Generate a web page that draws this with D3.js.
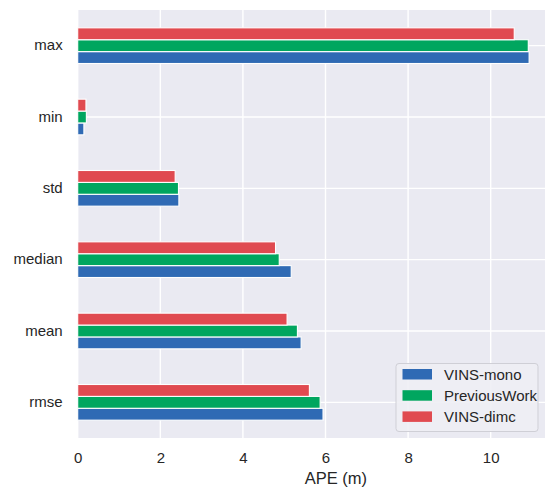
<!DOCTYPE html>
<html>
<head>
<meta charset="utf-8">
<script src="https://cdn.jsdelivr.net/npm/d3@7"></script>
<style>
  body { margin: 0; background: #fff; }
  svg text { font-family: "Liberation Sans", Arial, sans-serif; fill: #262626; }
</style>
</head>
<body>
<div id="container"></div>
<script>
// metrics, bottom to top like the original barh plot
const categories = ['rmse', 'mean', 'median', 'std', 'min', 'max'];
const vinsMono = [5.94, 5.41, 5.17, 2.45, 0.15, 10.93];
const previousWork = [5.87, 5.32, 4.88, 2.44, 0.21, 10.91];
const vinsDimc = [5.61, 5.07, 4.79, 2.36, 0.20, 10.57];
const seriesNames = ['VINS-mono', 'PreviousWork', 'VINS-dimc'];
const xTicks = [0, 2, 4, 6, 8, 10];

const colors = {'VINS-mono': '#2f6ab4', 'PreviousWork': '#00a65f', 'VINS-dimc': '#e04a50'};
const seriesData = {'VINS-mono': vinsMono, 'PreviousWork': previousWork, 'VINS-dimc': vinsDimc};

const w = 545, h = 491;
const plotLeft = 77.7, plotTop = 10, plotBottom = 438;
const pxPerUnit = 41.3;

const svg = d3.select('#container').append('svg')
  .attr('width', w).attr('height', h);

const xScale = d3.scaleLinear()
  .domain([0, 11.5])
  .range([plotLeft, plotLeft + 11.5 * pxPerUnit]);

const yScale = d3.scaleBand()
  .domain(categories.slice().reverse()) // max on top
  .range([plotTop, plotBottom]);

// bars: 0.5 of the band, red on top, blue at bottom
const inner = d3.scaleBand()
  .domain(['VINS-dimc', 'PreviousWork', 'VINS-mono'])
  .range([yScale.bandwidth() * 0.25, yScale.bandwidth() * 0.75]);

// background
svg.append('rect')
  .attr('x', plotLeft).attr('y', plotTop)
  .attr('width', xScale.range()[1] - plotLeft).attr('height', plotBottom - plotTop)
  .attr('fill', '#eaeaf2');

// grid
svg.append('g').selectAll('line')
  .data(xTicks).enter().append('line')
  .attr('x1', d => xScale(d)).attr('x2', d => xScale(d))
  .attr('y1', plotTop).attr('y2', plotBottom)
  .attr('stroke', '#fff').attr('stroke-width', 1.4);

svg.append('g').selectAll('line')
  .data(categories).enter().append('line')
  .attr('x1', plotLeft).attr('x2', xScale.range()[1])
  .attr('y1', d => yScale(d) + yScale.bandwidth() / 2)
  .attr('y2', d => yScale(d) + yScale.bandwidth() / 2)
  .attr('stroke', '#fff').attr('stroke-width', 1.4);

// bars
seriesNames.forEach(function(name){
  svg.append('g').selectAll('rect')
    .data(categories.map((c, i) => ({cat: c, v: seriesData[name][i]})))
    .enter().append('rect')
    .attr('x', xScale(0))
    .attr('y', d => yScale(d.cat) + inner(name))
    .attr('width', d => xScale(d.v) - xScale(0))
    .attr('height', inner.bandwidth())
    .attr('fill', colors[name])
    .attr('stroke', '#fff')
    .attr('stroke-width', 1.1);
});

// x axis
const xAxis = d3.axisBottom(xScale).tickValues(xTicks).tickSize(0).tickPadding(14);
const gx = svg.append('g')
  .attr('transform', 'translate(0,' + plotBottom + ')')
  .call(xAxis);
gx.select('.domain').remove();
gx.selectAll('text').style('font-size', '15px');

// y axis
const yAxis = d3.axisLeft(yScale).tickSize(0).tickPadding(15);
const gy = svg.append('g')
  .attr('transform', 'translate(' + plotLeft + ',0)')
  .call(yAxis);
gy.select('.domain').remove();
gy.selectAll('text').style('font-size', '15px');

svg.append('text')
  .attr('x', xScale(6.25)).attr('y', 484)
  .attr('text-anchor', 'middle')
  .style('font-size', '16.5px')
  .text('APE (m)');

// legend
const legend = svg.append('g').attr('transform', 'translate(396,363.5)');
legend.append('rect')
  .attr('width', 142).attr('height', 68)
  .attr('rx', 3)
  .attr('fill', '#eeeef4').attr('fill-opacity', 0.9)
  .attr('stroke', '#cfcfd6');

seriesNames.forEach(function(name, i){
  const row = legend.append('g').attr('transform', 'translate(0,' + (11 + i * 21.2) + ')');
  row.append('rect')
    .attr('x', 6.5).attr('y', -5.5)
    .attr('width', 29.5).attr('height', 10.5)
    .attr('fill', colors[name]);
  row.append('text')
    .attr('x', 48).attr('y', 5.3)
    .style('font-size', '15px')
    .text(name);
});
</script>
</body>
</html>
